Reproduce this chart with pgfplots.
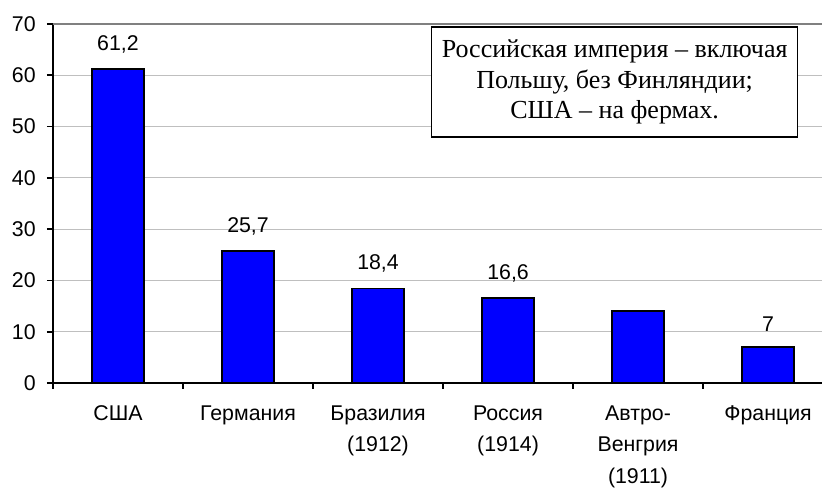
\documentclass[border=0pt]{standalone}
\usepackage{fontspec}
\setmainfont{Liberation Sans}
\newfontfamily\serif{Liberation Serif}
\usepackage{pgfplots}
\pgfplotsset{compat=1.18}
\usetikzlibrary{calc}

\begin{document}
\begin{tikzpicture}
\begin{axis}[
  name=ax,
  scale only axis,
  width=576.75pt, height=269.25pt,
  xmin=-0.5, xmax=5.415,
  ymin=0, ymax=70,
  ytick={0,10,...,70},
  xtick={0,1,2,3,4,5},
  xticklabels={США, Германия, {Бразилия\\(1912)}, {Россия\\(1914)}, {Автро-\\Венгрия\\(1911)}, Франция},
  minor xtick={-0.5,0.5,1.5,2.5,3.5,4.5},
  axis x line=bottom, axis y line=left,
  axis line style={-, line width=1.5pt},
  tick align=outside,
  major tick length=4.5pt, minor tick length=4.5pt,
  tick style={black, line width=1.2pt},
  major x tick style={draw=none},
  ymajorgrids, major grid style={black!25, line width=0.9pt},
  /pgf/number format/assume math mode=true,
  ticklabel style={font=\fontsize{16}{18}\selectfont},
  xticklabel style={align=center, font=\fontsize{16}{23.5}\selectfont, yshift=-9pt},
  yticklabel style={xshift=-5pt},
  ybar, bar width=39pt, bar shift=0pt,
  clip=false,
]
\addplot[fill=blue, draw=black, line width=1.3pt,
  nodes near coords, point meta=explicit symbolic,
  every node near coord/.append style={font=\fontsize{16}{18}\selectfont, yshift=8pt}]
  coordinates {(0,61.2)[61,2] (1,25.7)[25,7] (2,18.4)[18,4] (3,16.6)[16,6] (5,7)[7]};
\addplot[fill=blue, draw=black, line width=1.3pt] coordinates {(4,14)};
\draw[black!50, line width=0.9pt] (axis cs:-0.5,70) -- (axis cs:5.415,70);
\node[draw=black, fill=white, line width=1.2pt, align=center,
  minimum width=274.5pt, minimum height=82.5pt, inner sep=0pt,
  font=\serif\fontsize{19.5}{23}\selectfont]
  at (axis cs:3.82,58.7) {Российская империя – включая\\Польшу, без Финляндии;\\США – на фермах.};
\end{axis}
\pgfresetboundingbox
\path ($(ax.south west)+(-39.75pt,-79pt)$) rectangle ($(ax.north east)+(1.5pt,18pt)$);
\end{tikzpicture}
\end{document}
